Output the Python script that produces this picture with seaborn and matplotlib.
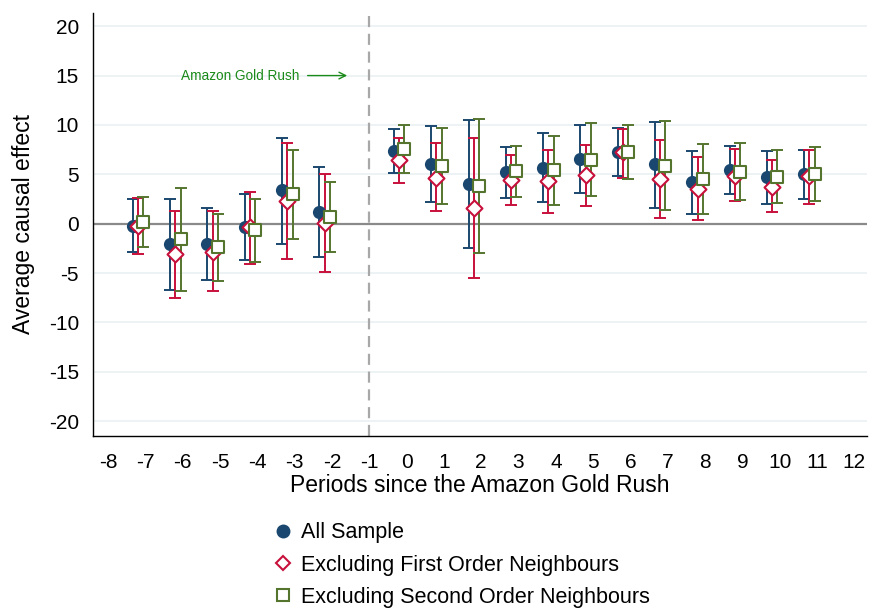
import numpy as np
import pandas as pd
import matplotlib
matplotlib.use('Agg')
from matplotlib import pyplot as plt
from matplotlib.lines import Line2D
import seaborn as sns

## values
periods = [-7, -6, -5, -4, -3, -2, 0, 1, 2, 3, 4, 5, 6, 7, 8, 9, 10, 11]

all_est = [-0.24, -2.1, -2.03, -0.31, 3.41, 1.18, 7.37, 6.09, 3.99, 5.24, 5.68, 6.52, 7.3, 6.02, 4.26, 5.44, 4.7, 5.0]
all_lo = [-2.88, -6.73, -5.75, -3.69, -2.03, -3.42, 5.1, 2.19, -2.47, 2.6, 2.19, 3.07, 4.83, 1.62, 1.01, 2.97, 2.03, 2.5]
all_hi = [2.47, 2.5, 1.62, 3.04, 8.72, 5.74, 9.57, 9.9, 10.45, 7.78, 9.2, 10.04, 9.67, 10.31, 7.41, 7.88, 7.41, 7.47]

first_est = [-0.28, -3.12, -2.84, -0.34, 2.29, 0.1, 6.42, 4.67, 1.62, 4.39, 4.29, 4.9, 7.27, 4.57, 3.55, 4.83, 3.75, 4.83]
first_lo = [-3.08, -7.55, -6.84, -4.13, -3.62, -4.87, 4.16, 1.28, -5.48, 1.93, 1.12, 1.79, 4.6, 0.61, 0.37, 2.33, 1.22, 1.96]
first_hi = [2.64, 1.25, 1.28, 3.21, 8.15, 5.03, 8.72, 8.18, 8.72, 6.96, 7.47, 7.98, 9.57, 8.48, 6.76, 7.61, 6.42, 7.47]

second_est = [0.16, -1.52, -2.37, -0.68, 2.97, 0.67, 7.61, 5.84, 3.82, 5.34, 5.41, 6.46, 7.27, 5.84, 4.5, 5.24, 4.77, 5.0]
second_lo = [-2.4, -6.77, -5.82, -3.93, -1.52, -2.88, 5.13, 1.96, -2.98, 2.74, 1.86, 2.8, 4.57, 1.38, 0.94, 2.4, 2.06, 2.29]
second_hi = [2.67, 3.62, 1.01, 2.54, 7.47, 4.22, 10.04, 9.7, 10.55, 7.88, 8.89, 10.15, 10.0, 10.35, 8.02, 8.15, 7.44, 7.78]

labels = ['All Sample', 'Excluding First Order Neighbours', 'Excluding Second Order Neighbours']

## long table
frames = []
for lab, est, lo, hi in zip(labels,
                            [all_est, first_est, second_est],
                            [all_lo, first_lo, second_lo],
                            [all_hi, first_hi, second_hi]):
    frames.append(pd.DataFrame({'period': periods, 'est': est, 'lo': lo, 'hi': hi, 'series': lab}))
d = pd.concat(frames, ignore_index=True)

sns.set_style('white')
plt.rcParams['font.family'] = ['Liberation Sans', 'DejaVu Sans']
plt.rcParams['axes.unicode_minus'] = False
plt.rcParams['text.color'] = 'black'
plt.rcParams['axes.labelcolor'] = 'black'
plt.rcParams['xtick.color'] = 'black'
plt.rcParams['ytick.color'] = 'black'

colors = {labels[0]: '#1a476f', labels[1]: '#c8103c', labels[2]: '#55752f'}
shift = {labels[0]: -0.34, labels[1]: -0.2, labels[2]: -0.06}
markers = {labels[0]: 'o', labels[1]: 'D', labels[2]: 's'}

fig = plt.figure(figsize=(8.69, 6.08), dpi=100)
ax = fig.add_axes([0.107, 0.283, 0.891, 0.696])

## grid and reference lines
for yv in range(-20, 25, 5):
    if yv != 0:
        ax.axhline(yv, color='#eaf1f3', lw=1.2, zorder=0)
ax.axhline(0, color='#8a8a8a', lw=1.6, zorder=1)
ax.axvline(-1, color='#a8a8a8', lw=1.6, ls=(0, (5, 3)), zorder=1)

for lab in labels:
    sub = d[d.series == lab].copy()
    sub['x'] = sub.period + shift[lab]
    ax.errorbar(sub.x, sub.est, yerr=[sub.est - sub.lo, sub.hi - sub.est],
                fmt='none', ecolor=colors[lab], elinewidth=1.4, capsize=4.5,
                capthick=1.4, zorder=2)
    if lab == labels[0]:
        sns.scatterplot(data=sub, x='x', y='est', ax=ax, color=colors[lab],
                        marker='o', s=90, edgecolor=colors[lab], linewidth=0,
                        zorder=3, legend=False)
    else:
        sns.scatterplot(data=sub, x='x', y='est', ax=ax, marker=markers[lab],
                        s=66 if lab == labels[1] else 78, facecolor='white',
                        edgecolor=colors[lab], linewidth=1.5, zorder=3,
                        legend=False)

ax.annotate('', xy=(-1.52, 15), xytext=(-2.73, 15),
            arrowprops=dict(arrowstyle='->', color='#1a8a1a', lw=1, mutation_scale=12))
ax.text(-6.05, 15, 'Amazon Gold Rush', color='#1a8a1a', fontsize=9.8, va='center', ha='left')

ax.set_xlim(-8.41, 12.35)
ax.set_ylim(-21.5, 21.36)
ax.set_xticks(range(-8, 13))
ax.set_yticks(range(-20, 25, 5))
ax.tick_params(axis='both', labelsize=15, length=5, width=1, direction='out')
ax.tick_params(axis='x', pad=7)
ax.tick_params(axis='y', pad=5)
for s in ['top', 'right']:
    ax.spines[s].set_visible(False)
for s in ['left', 'bottom']:
    ax.spines[s].set_color('black')
    ax.spines[s].set_linewidth(1)
ax.set_xlabel('Periods since the Amazon Gold Rush', fontsize=16.5, labelpad=2)
ax.set_ylabel('Average causal effect', fontsize=16.5, labelpad=10)

handles = [
    Line2D([], [], ls='none', marker='o', markersize=9, color=colors[labels[0]]),
    Line2D([], [], ls='none', marker='D', markersize=7.5, markerfacecolor='white',
           markeredgecolor=colors[labels[1]], markeredgewidth=1.5),
    Line2D([], [], ls='none', marker='s', markersize=8, markerfacecolor='white',
           markeredgecolor=colors[labels[2]], markeredgewidth=1.5),
]
fig.legend(handles, labels, loc='upper left', bbox_to_anchor=(0.303, 0.155),
           frameon=False, fontsize=15.5, handletextpad=0.35, labelspacing=0.52,
           handlelength=1.0, borderaxespad=0)

fig.savefig('out.png', dpi=100)
